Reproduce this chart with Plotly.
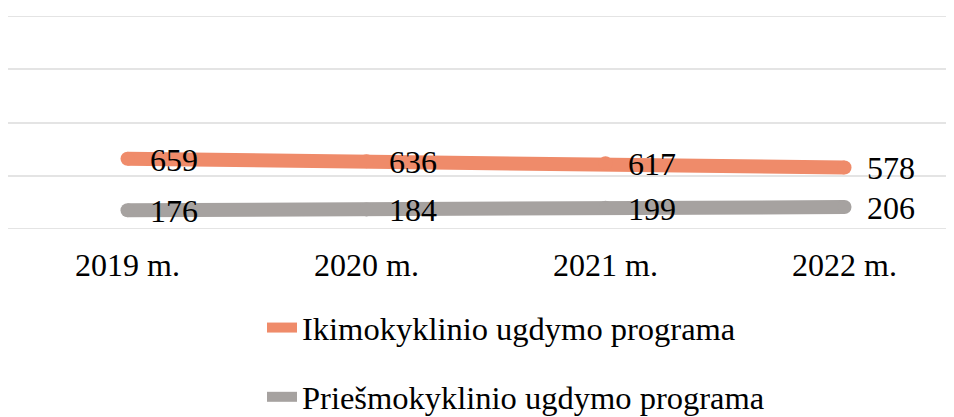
import plotly.graph_objects as go

years = ["2019 m.", "2020 m.", "2021 m.", "2022 m."]
series_names = ["Ikimokyklinio ugdymo programa", "Priešmokyklinio ugdymo programa"]
ikimokyklinio = [659, 636, 617, 578]
priesmokyklinio = [176, 184, 199, 206]
colors = ["#EF8B6A", "#A6A2A0"]

FONT = "Liberation Serif, Times New Roman, serif"
fig = go.Figure()
for i, (name, vals) in enumerate(zip(series_names, [ikimokyklinio, priesmokyklinio])):
    fig.add_trace(go.Scatter(
        x=years, y=vals, name=name, mode="lines",
        line=dict(color=colors[i], width=14),
        legendgroup=f"g{i}", cliponaxis=False,
    ))
    fig.add_trace(go.Scatter(
        x=years, y=vals, mode="markers", showlegend=False,
        marker=dict(color=colors[i], size=14, line=dict(width=0)),
        legendgroup=f"g{i}", hoverinfo="skip", cliponaxis=False,
    ))
    for x, v in zip(years, vals):
        fig.add_annotation(x=x, y=v, text=str(v), showarrow=False,
                           xanchor="left", yanchor="middle", xshift=20, yshift=-1,
                           font=dict(family=FONT, size=32, color="#000000"))

fig.update_layout(
    width=946, height=409,
    margin=dict(l=0, r=0, t=8, b=188, autoexpand=False),
    paper_bgcolor="white", plot_bgcolor="white",
    font=dict(family=FONT, size=32, color="#000000"),
    showlegend=True,
    legend=dict(orientation="v", x=0.537, xanchor="center", y=-0.333, yanchor="top",
                tracegroupgap=24, font=dict(size=32.5, family=FONT),
                itemwidth=30, bgcolor="rgba(0,0,0,0)"),
    xaxis=dict(range=[-0.5, 3.458], showgrid=False, zeroline=False, showline=False,
               ticks="", tickfont=dict(size=32, family=FONT), ticklabelstandoff=14),
    yaxis=dict(range=[0, 2000], dtick=500, showticklabels=False, showgrid=True,
               gridcolor="#E4E4E4", gridwidth=2, zeroline=False, showline=False),
)
fig.add_shape(type="line", xref="paper", yref="y", x0=0, x1=1, y0=2000, y1=2000,
              line=dict(color="#E4E4E4", width=2), layer="below")
fig.add_shape(type="line", xref="paper", yref="y", x0=0, x1=1, y0=0, y1=0,
              line=dict(color="#E4E4E4", width=2), layer="below")

fig.write_html("out.html")
